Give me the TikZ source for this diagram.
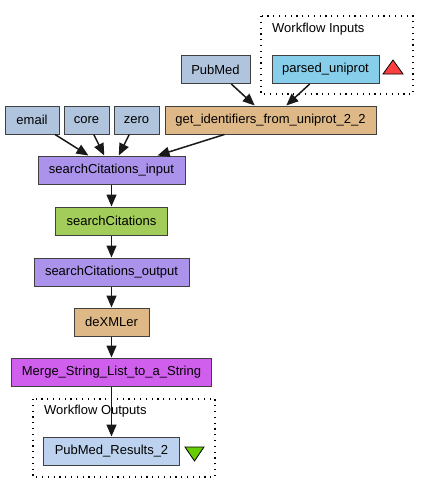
\documentclass[tikz,border=0pt]{standalone}
\usepackage{fontspec}
\setmainfont{Liberation Sans}
\usepackage{xcolor}
\usepackage{tikz}
\usetikzlibrary{shapes,positioning,calc,arrows.meta}

\definecolor{constblue}{HTML}{B0C4DE}
\definecolor{beanshell}{HTML}{DEB887}
\definecolor{xmlsplit}{HTML}{AB92EA}
\definecolor{wsdlgreen}{HTML}{A2CD5A}
\definecolor{localw}{HTML}{D15FEE}
\definecolor{wfin}{HTML}{87CEEB}
\definecolor{wfout}{HTML}{BCD2EE}
\definecolor{inred}{HTML}{FF4040}
\definecolor{outgreen}{HTML}{66CD00}

\begin{document}
\begin{tikzpicture}[x=1pt, y=-1pt,
        block/.style={rectangle, draw=black!75, line width=1pt, minimum height=28pt, inner sep=0pt, font=\fontsize{13}{15}\selectfont},
        const/.style={block, fill=constblue},
        bean/.style={block, fill=beanshell},
        split/.style={block, fill=xmlsplit},
        wsdl/.style={block, fill=wsdlgreen},
        local/.style={block, fill=localw},
        inport/.style={block, fill=wfin},
        outport/.style={block, fill=wfout},
        cluster/.style={draw, line width=1.2pt, dash pattern=on 1.2pt off 4.6pt},
        clusterlabel/.style={anchor=west, inner sep=0pt, font=\fontsize{13}{15}\selectfont},
        line/.style={draw, -{Triangle[length=12pt,width=10pt]}, line width=1.5pt, black!90}]

        \useasboundingbox (0,0) rectangle (429,493);

        % workflow inputs cluster
        \draw [cluster] (261,16) rectangle (413,94);
        \node [clusterlabel] (inlabel) at (272,29) {Workflow Inputs};
        \node [inport, minimum width=107pt] (parsed) at (325.5,69.5) {parsed\_uniprot};
        \filldraw [fill=inred, draw=black, line width=0.8pt] (383,74) -- (403,74) -- (393,60) -- cycle;

        \node [const, minimum width=69pt] (pubmed) at (215.5,69.5) {PubMed};

        \node [const, minimum width=54pt] (email) at (32,120) {email};
        \node [const, minimum width=45pt, right=4pt of email] (core) {core};
        \node [const, minimum width=45pt, right=4pt of core] (zero) {zero};
        \node [bean, minimum width=211pt, right=5pt of zero] (getids) {get\_identifiers\_from\_uniprot\_2\_2};

        \node [split, minimum width=147pt] (scin) at (111.5,170) {searchCitations\_input};
        \node [wsdl, minimum width=112pt, below=22pt of scin] (search) {searchCitations};
        \node [split, minimum width=155pt, below=22pt of search] (scout) {searchCitations\_output};
        \node [bean, minimum width=75pt, below=21pt of scout] (dexml) {deXMLer};
        \node [local, minimum width=200pt, below=21pt of dexml] (merge) {Merge\_String\_List\_to\_a\_String};

        % workflow outputs cluster
        \draw [cluster] (33,399) rectangle (215,477);
        \node [clusterlabel] (outlabel) at (44,411) {Workflow Outputs};
        \node [outport, minimum width=136pt, below=50pt of merge] (results) {PubMed\_Results\_2};
        \filldraw [fill=outgreen, draw=black, line width=0.8pt] (185,447) -- (204,447) -- (194.5,461) -- cycle;

        \path [line] (pubmed) -- (getids);
        \path [line] (parsed) -- (getids);
        \path [line] (email) -- (scin);
        \path [line] (core) -- (scin);
        \path [line] (zero) -- (scin);
        \path [line] (getids) -- (scin);
        \path [line] (scin) -- (search);
        \path [line] (search) -- (scout);
        \path [line] (scout) -- (dexml);
        \path [line] (dexml) -- (merge);
        \path [line] (merge) -- (results);
    \end{tikzpicture}
\end{document}
